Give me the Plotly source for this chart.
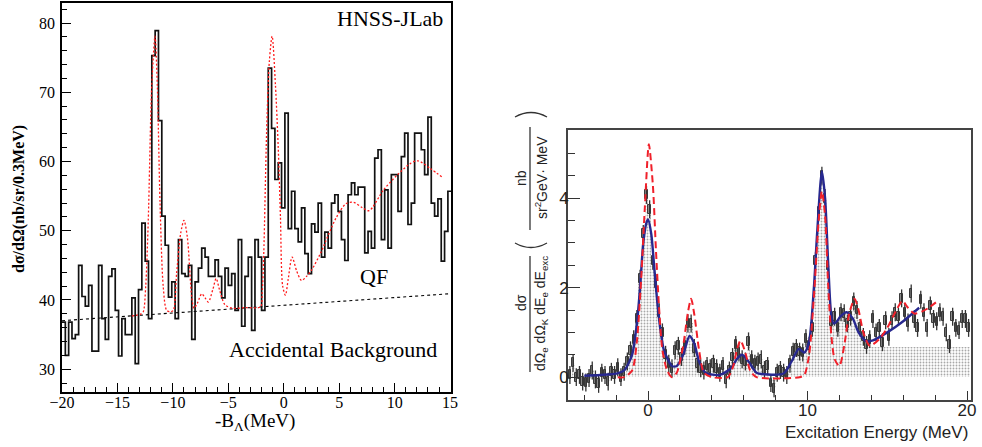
import numpy as np
import plotly.graph_objects as go

W, H = 982, 447

# ---------------- Left panel data (HNSS-JLab) ----------------
left_bin_start = -20.0
left_bin_width = 0.3
left_counts = [
    36.8, 32.0, 36.8, 34.4, 35.0, 45.0, 40.5, 39.1, 42.1, 32.6,
    32.6, 45.0, 37.3, 34.3, 43.4, 44.5, 38.5, 31.9, 37.3, 35.0,
    35.0, 40.3, 30.8, 41.5, 51.1, 45.6, 37.3, 75.3, 78.9, 65.9,
    52.1, 47.9, 40.4, 42.6, 37.3, 48.7, 43.8, 43.4, 45.0, 34.3,
    42.6, 44.6, 47.5, 46.2, 43.4, 43.4, 45.8, 43.4, 40.3, 44.6,
    42.1, 43.8, 38.5, 48.7, 36.2, 43.4, 46.2, 35.6, 48.7, 46.2,
    38.5, 46.2, 73.5, 64.8, 57.4, 59.8, 53.3, 67.0, 50.3, 55.7,
    50.3, 48.4, 53.3, 46.7, 43.8, 51.0, 49.8, 54.0, 46.2, 49.8,
    47.5, 54.0, 55.2, 52.8, 48.7, 45.7, 55.2, 56.9, 55.2, 56.3,
    56.3, 46.8, 49.9, 47.5, 60.5, 61.7, 48.7, 55.9, 47.5, 58.1,
    58.1, 52.8, 60.7, 64.1, 50.9, 54.0, 64.1, 64.1, 61.7, 58.1,
    66.4, 54.0, 52.1, 54.6, 45.6, 49.9, 55.7,
]
left_fit_x = [-13.7, -12.9, -12.67, -12.45, -12.22, -11.91, -11.61, -11.4, -11.16,
              -10.87, -10.56, -10.2, -9.96, -9.66, -9.3, -9.0, -8.7, -8.3, -8.1,
              -7.8, -7.4, -7.1, -6.8, -6.4, -6.1, -5.8, -5.3, -4.6, -3.5, -2.1,
              -1.95, -1.8, -1.55, -1.3, -1.05, -0.75, -0.5, -0.3, -0.1, 0.15, 0.4,
              0.75, 1.16, 1.6, 2.05, 2.5, 3.3, 4.7, 5.6, 6.3, 7.1, 7.7, 9.0, 10.2,
              11.4, 12.1, 13.2, 14.4]
left_fit_y = [37.7, 37.95, 38.3, 42.0, 51.5, 70.8, 78.1, 70.8, 54.0,
              41.9, 38.5, 38.3, 38.5, 43.9, 49.6, 51.5, 49.1, 40.4, 38.8,
              39.5, 40.9, 40.3, 39.7, 41.5, 43.1, 41.5, 39.3, 38.8, 38.9, 39.0,
              41.0, 47.0, 64.1, 74.5, 78.1, 71.0, 62.0, 52.0, 42.0, 40.7, 43.0,
              46.2, 44.2, 42.8, 43.4, 44.3, 46.7, 51.8, 53.9, 54.1, 53.3, 52.9,
              55.9, 58.0, 59.7, 60.1, 59.0, 57.6]
left_bg_x = [-20.0, 15.0]
left_bg_y = [37.0, 40.9]

# ---------------- Right panel data (Excitation energy) ----------------
right_bin_start = -5.0
right_bin_width = 0.2
right_counts = [
    0.05, 0.32, 0.00, 0.05, -0.10, -0.12, -0.02, 0.15, -0.05, -0.15,
    0.10, 0.05, -0.10, 0.12, 0.05, 0.22, 0.00, 0.12, 0.35, 0.60,
    0.85, 1.30, 2.20, 3.20, 4.07, 3.75, 2.60, 2.10, 1.45, 1.00,
    0.50, 0.30, 0.20, 0.60, 0.70, 0.45, 0.70, 1.20, 1.20, 0.65,
    0.30, 0.20, 0.15, 0.25, 0.20, 0.30, 0.20, 0.10, 0.25, -0.05,
    0.15, 0.45, 0.72, 0.55, 0.40, 0.35, 0.80, 0.40, 0.30, 0.35,
    0.40, 0.16, 0.25, -0.13, -0.25, 0.10, 0.16, 0.10, 0.05, 0.30,
    0.57, 0.65, 0.57, 0.55, 0.87, 0.70, 1.10, 2.60, 3.70, 4.50,
    4.00, 2.50, 1.25, 1.35, 1.10, 1.45, 1.43, 1.20, 1.35, 1.69,
    1.50, 1.10, 0.90, 0.72, 0.85, 1.30, 1.00, 1.10, 0.78, 1.27,
    0.90, 1.27, 1.45, 1.35, 1.76, 1.45, 1.22, 1.87, 1.30, 1.10,
    1.73, 1.45, 1.10, 1.60, 1.30, 1.25, 1.45, 1.35, 1.00, 0.74,
    1.35, 1.10, 1.05, 1.30, 1.30, 1.10,
]
right_err = 0.2
right_box_half = 0.1
# the dotted (shaded) histogram level is capped above this energy
right_fill_cap_from = 13.4
right_fill_cap = 0.68

blue_x = [-4.0, -3.0, -2.0, -1.5, -1.0, -0.7, -0.5, -0.3, -0.1, 0.0, 0.2, 0.4, 0.6, 0.8,
          1.0, 1.5, 1.8, 2.2, 2.6, 2.9, 3.2, 3.6, 4.5, 5.2, 5.6, 5.9, 6.3, 6.8, 7.5,
          8.5, 9.0, 9.45, 9.8, 10.1, 10.4, 10.6, 10.9, 11.1, 11.3, 11.5, 11.65, 11.85,
          12.05, 12.45, 12.85, 13.2, 13.7, 14.1, 15.0, 16.0, 17.0]
blue_y = [0.03, 0.05, 0.08, 0.15, 0.5, 1.2, 2.0, 3.0, 3.45, 3.52, 3.2, 2.4, 1.6, 1.0,
          0.6, 0.25, 0.25, 0.5, 0.92, 0.75, 0.35, 0.1, 0.05, 0.2, 0.42, 0.5, 0.35, 0.1, 0.06,
          0.08, 0.35, 0.63, 0.55, 0.8, 2.0, 3.2, 4.6, 4.0, 2.5, 1.35, 1.2, 1.25,
          1.35, 1.45, 1.3, 1.0, 0.8, 0.82, 1.0, 1.25, 1.55]

red_x = [-1.9, -1.5, -1.0, -0.7, -0.4, -0.2, 0.05, 0.3, 0.5, 0.7, 0.9, 1.2, 1.5, 1.8,
         2.2, 2.5, 2.7, 2.9, 3.2, 3.5, 4.0, 5.0, 5.3, 5.6, 5.8, 6.1, 6.4, 6.8, 9.5,
         9.8, 10.1, 10.4, 10.7, 10.9, 11.1, 11.3, 11.5, 11.7, 12.0, 12.3, 12.6, 12.95,
         13.2, 13.5, 13.9, 14.5, 15.0, 15.5, 15.95, 16.3, 16.7, 17.2, 17.6, 18.05]
red_y = [0.0, 0.0, 0.15, 0.8, 2.4, 3.8, 5.2, 4.3, 2.8, 1.5, 0.6, 0.15, 0.0, 0.1,
         0.7, 1.45, 1.75, 1.4, 0.6, 0.1, 0.0, 0.0, 0.2, 0.65, 0.82, 0.55, 0.15, 0.0, 0.0,
         0.05, 0.5, 1.8, 3.5, 4.15, 3.6, 2.0, 0.9, 0.4, 0.25, 0.7, 1.4, 1.75,
         1.5, 1.0, 0.7, 0.85, 1.1, 1.45, 1.7, 1.55, 1.42, 1.47, 1.55, 1.67]

# ---------------- helpers ----------------
def px(x):
    return x / W

def py(y):
    return 1 - y / H

left_edges = left_bin_start + left_bin_width * np.arange(len(left_counts) + 1)
left_step_y = list(left_counts) + [left_counts[-1]]

right_centers = right_bin_start + right_bin_width * (np.arange(len(right_counts)) + 0.5)
right_vals = np.array(right_counts)
right_fill = np.where(right_centers > right_fill_cap_from,
                      np.minimum(right_vals, right_fill_cap), right_vals)

SERIF = "Liberation Serif, Times New Roman, serif"
SANS = "Liberation Sans, Arial, sans-serif"

fig = go.Figure()

# Left panel
fig.add_trace(go.Scatter(x=left_bg_x, y=left_bg_y, mode="lines",
                         line=dict(color="black", width=1.1, dash="3px,3px"),
                         xaxis="x", yaxis="y", showlegend=False))
fig.add_trace(go.Scatter(x=left_edges, y=left_step_y, mode="lines",
                         line=dict(color="#111", width=1.7, shape="hv"),
                         xaxis="x", yaxis="y", showlegend=False))
fig.add_trace(go.Scatter(x=left_fit_x, y=left_fit_y, mode="lines",
                         line=dict(color="#ff1a1a", width=1.3, dash="2px,2px", shape="spline", smoothing=0.8),
                         xaxis="x", yaxis="y", showlegend=False))

# Right panel
fig.add_trace(go.Bar(x=right_centers, y=right_fill, width=right_bin_width,
                     marker=dict(color="white", line=dict(width=0),
                                 pattern=dict(shape=".", fgcolor="#a8a8a8", bgcolor="white",
                                              size=3, solidity=0.3)),
                     xaxis="x2", yaxis="y2", showlegend=False))
fig.add_trace(go.Scatter(x=right_centers, y=right_vals, mode="markers",
                         marker=dict(size=1, color="rgba(0,0,0,0)"),
                         error_y=dict(type="constant", value=right_err, color="#333",
                                      thickness=1.3, width=0),
                         xaxis="x2", yaxis="y2", showlegend=False))
fig.add_trace(go.Bar(x=right_centers, y=[2 * right_box_half] * len(right_counts),
                     base=right_vals - right_box_half, width=0.15,
                     marker=dict(color="#8c8c8c", line=dict(color="#3a3a3a", width=1)),
                     xaxis="x2", yaxis="y2", showlegend=False))
fig.add_trace(go.Scatter(x=blue_x, y=blue_y, mode="lines",
                         line=dict(color="#27288f", width=2.4, shape="spline", smoothing=0.7),
                         xaxis="x2", yaxis="y2", showlegend=False))
fig.add_trace(go.Scatter(x=red_x, y=red_y, mode="lines",
                         line=dict(color="#f0202a", width=2, dash="7px,4px", shape="spline", smoothing=0.7),
                         xaxis="x2", yaxis="y2", showlegend=False))

left_axis_common = dict(showline=True, linecolor="black", linewidth=1.6, mirror=True,
                        ticks="inside", tickcolor="black", tickwidth=1.2,
                        showgrid=False, zeroline=False, automargin=False,
                        tickfont=dict(family=SERIF, size=16, color="black"))
right_axis_common = dict(showline=True, linecolor="#444", linewidth=1.6, mirror=True,
                         ticks="inside", tickcolor="#333", tickwidth=1.3,
                         showgrid=False, zeroline=False, automargin=False,
                         tickfont=dict(family=SANS, size=17, color="#222"))

fig.update_layout(
    template="none",
    width=W, height=H, margin=dict(l=0, r=0, t=0, b=0, autoexpand=False),
    paper_bgcolor="white", plot_bgcolor="white", barmode="overlay", bargap=0,
    showlegend=False,
    xaxis=dict(domain=[px(62), px(451)], anchor="y", range=[-20.0, 15.08],
               tick0=0, dtick=5, ticklen=9, ticklabelstandoff=-5,
               minor=dict(ticks="inside", dtick=1, ticklen=5, tickcolor="black", tickwidth=1),
               **left_axis_common),
    yaxis=dict(domain=[py(392), py(3)], anchor="x", range=[26.7, 82.9],
               tick0=0, dtick=10, ticklen=9, ticklabelstandoff=2,
               minor=dict(ticks="inside", dtick=2, ticklen=5, tickcolor="black", tickwidth=1),
               **left_axis_common),
    xaxis2=dict(domain=[px(568), px(971)], anchor="y2", range=[-5.02, 20.25],
                tick0=0, dtick=10, ticklen=9, ticklabelstandoff=-6,
                minor=dict(ticks="inside", dtick=2, ticklen=5, tickcolor="#333", tickwidth=1),
                **right_axis_common),
    yaxis2=dict(domain=[py(400), py(130)], anchor="x2", range=[-0.51, 5.52],
                tick0=0, dtick=2, ticklen=12, ticklabelstandoff=-6,
                minor=dict(ticks="inside", dtick=0.5, ticklen=7, tickcolor="#333", tickwidth=1),
                **right_axis_common),
)

ann = []
def add_text(text, x, y, size, family, xanchor="center", angle=0, color="black"):
    ann.append(dict(text=text, x=px(x), y=py(y), xref="paper", yref="paper",
                    xanchor=xanchor, yanchor="middle", showarrow=False, textangle=angle,
                    font=dict(family=family, size=size, color=color)))

# Left panel texts
add_text("HNSS-JLab", 445, 18.5, 22, SERIF, xanchor="right")
add_text("QF", 374, 276, 22, SERIF)
add_text("Accidental Background", 332.5, 349, 22, SERIF)
add_text("-B<sub>Λ</sub>(MeV)", 255, 422, 19, SERIF)
add_text("<b>dσ/dΩ(nb/sr/0.3MeV)</b>", 19, 199, 16, SERIF, angle=-90)

# Right panel texts
add_text("Excitation Energy (MeV)", 970, 432, 17, SANS, xanchor="right", color="#222")
add_text("dσ", 521, 303, 14, SANS, angle=-90, color="#222")
add_text("dΩ<sub>e</sub> dΩ<sub>K</sub> dE<sub>e</sub> dE<sub>exc</sub>", 541, 314, 14, SANS, angle=-90, color="#222")
add_text("nb", 521, 178, 14, SANS, angle=-90, color="#222")
add_text("sr<sup>2</sup>GeV· MeV", 541, 178, 14, SANS, angle=-90, color="#222")

fig.update_layout(annotations=ann)

shapes = [
    dict(type="line", xref="paper", yref="paper", x0=px(530), x1=px(530), y0=py(256), y1=py(372),
         line=dict(color="#222", width=1.2)),
    dict(type="line", xref="paper", yref="paper", x0=px(530), x1=px(530), y0=py(127), y1=py(230),
         line=dict(color="#222", width=1.2)),
    # large parentheses around the unit fraction (rotated)
    dict(type="path", xref="paper", yref="paper",
         path=f"M {px(515)},{py(243)} Q {px(531)},{py(252)} {px(547)},{py(243)}",
         line=dict(color="#333", width=1.3)),
    dict(type="path", xref="paper", yref="paper",
         path=f"M {px(515)},{py(117)} Q {px(531)},{py(108)} {px(547)},{py(117)}",
         line=dict(color="#333", width=1.3)),
]
fig.update_layout(shapes=shapes)

fig.write_html("out.html", config={"displayModeBar": False},
               post_script="document.body.style.margin='0';document.body.style.overflow='hidden';")
